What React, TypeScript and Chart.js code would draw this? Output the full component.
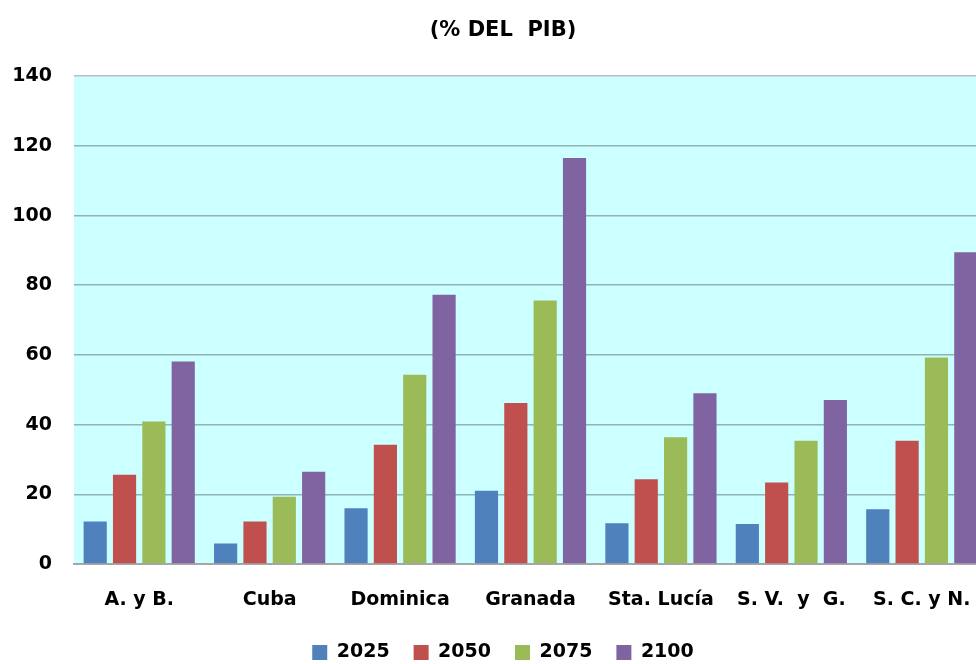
import React, { useEffect, useRef } from "react";
import { Chart, registerables } from "chart.js";

Chart.register(...registerables);

const categories = ["A. y B.", "Cuba", "Dominica", "Granada", "Sta. Lucía", "S. V.  y  G.", "S. C. y N."];
const seriesLabels = ["2025", "2050", "2075", "2100"];
const values2025 = [12.2, 5.9, 16.0, 21.0, 11.7, 11.5, 15.7];
const values2050 = [25.6, 12.2, 34.2, 46.2, 24.3, 23.4, 35.4];
const values2075 = [40.9, 19.3, 54.3, 75.6, 36.4, 35.4, 59.3];
const values2100 = [58.1, 26.5, 77.3, 116.5, 49.0, 47.1, 89.5];
const yTicks = [0, 20, 40, 60, 80, 100, 120, 140];
const titleText = "(% DEL  PIB)";

const fillColors = ["#4F81BD", "#C0504D", "#9BBB59", "#8064A2"];

const FONT = "'DejaVu Sans', 'Liberation Sans', Arial, sans-serif";

const plotBg = {
  id: "plotBg",
  afterLayout(chart: any) {
    if (chart.titleBlock) chart.titleBlock.left += 19;
    if (chart.legend) chart.legend.left += 19;
  },
  beforeDraw(chart: any) {
    const { ctx, chartArea } = chart;
    if (!chartArea) return;
    ctx.save();
    ctx.fillStyle = "#CCFFFF";
    ctx.fillRect(chartArea.left, chartArea.top, chartArea.right - chartArea.left, chartArea.bottom - chartArea.top);
    ctx.restore();
  },
};

export default function App() {
  const ref = useRef<HTMLCanvasElement | null>(null);

  useEffect(() => {
    if (!ref.current) return;
    const all = [values2025, values2050, values2075, values2100];
    const chart = new Chart(ref.current, {
      type: "bar",
      data: {
        labels: categories,
        datasets: seriesLabels.map((label, i) => ({
          label,
          data: all[i],
          backgroundColor: fillColors[i],
          borderWidth: 0,
          categoryPercentage: 0.9,
          barPercentage: 0.79,
        })),
      },
      options: {
        responsive: false,
        animation: false,
        layout: { padding: { left: 0, right: 19, top: 0, bottom: 0 } },
        plugins: {
          title: {
            display: true,
            text: titleText,
            color: "#000",
            font: { family: FONT, size: 21, weight: "bold" },
            padding: { top: 18, bottom: 33 },
          },
          legend: {
            display: true,
            position: "bottom",
            labels: {
              color: "#000",
              font: { family: FONT, size: 19, weight: "bold" },
              boxWidth: 15,
              boxHeight: 15,
              padding: 24,
            },
          },
          tooltip: { enabled: false },
        },
        scales: {
          x: {
            grid: { display: false, drawTicks: false },
            border: { display: true, color: "#A6A6A6", width: 2 },
            ticks: {
              color: "#000",
              font: { family: FONT, size: 19, weight: "bold" },
              padding: 25,
              maxRotation: 0,
              autoSkip: false,
            },
            afterFit: (scale: any) => {
              scale.height = 55;
            },
          },
          y: {
            min: 0,
            max: 140,
            afterBuildTicks: (scale: any) => {
              scale.ticks = yTicks.map((v) => ({ value: v }));
            },
            grid: {
              drawTicks: false,
              color: (ctx: any) => (ctx.tick && ctx.tick.value === 140 ? "#BDBDBD" : "#8FB4B4"),
              lineWidth: 1.6,
            },
            border: { display: false },
            ticks: {
              color: "#000",
              font: { family: FONT, size: 19, weight: "bold" },
              padding: 22,
            },
            afterFit: (scale: any) => {
              scale.width = 74;
            },
          },
        },
      },
      plugins: [plotBg],
    });
    return () => chart.destroy();
  }, []);

  return (
    <div style={{ position: "absolute", left: 0, top: 0, width: 976, height: 664, overflow: "hidden", background: "#fff" }}>
      <canvas ref={ref} width={1006} height={672} style={{ display: "block" }} />
    </div>
  );
}
